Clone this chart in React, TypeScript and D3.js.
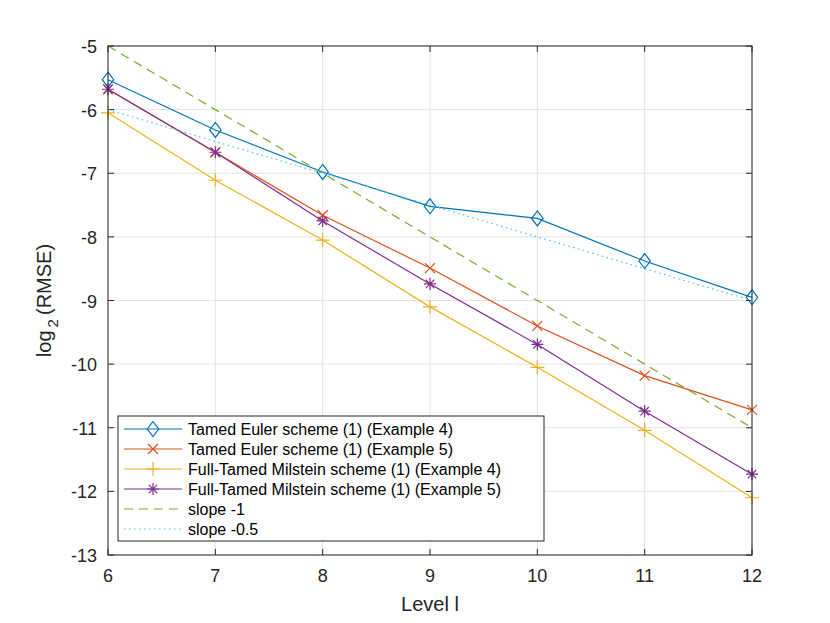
import React, { useEffect, useRef } from 'react';
import * as d3 from 'd3';

const levels = [6, 7, 8, 9, 10, 11, 12];
const eulerEx4 = [-5.53, -6.32, -6.98, -7.52, -7.71, -8.38, -8.95];
const eulerEx5 = [-5.68, -6.67, -7.66, -8.49, -9.40, -10.18, -10.72];
const milsteinEx4 = [-6.05, -7.11, -8.05, -9.10, -10.05, -11.04, -12.10];
const milsteinEx5 = [-5.68, -6.67, -7.75, -8.74, -9.69, -10.74, -11.73];
const slope1 = [-5, -6, -7, -8, -9, -10, -11];
const slopeHalf = [-6, -6.5, -7, -7.5, -8, -8.5, -9];
const yTicks = [-13, -12, -11, -10, -9, -8, -7, -6, -5];

const series = [
  { name: 'Tamed Euler scheme (1) (Example 4)', values: eulerEx4, color: '#0072BD', marker: 'diamond', dash: '' },
  { name: 'Tamed Euler scheme (1) (Example 5)', values: eulerEx5, color: '#D95319', marker: 'x', dash: '' },
  { name: 'Full-Tamed Milstein scheme (1) (Example 4)', values: milsteinEx4, color: '#EDB120', marker: 'plus', dash: '' },
  { name: 'Full-Tamed Milstein scheme (1) (Example 5)', values: milsteinEx5, color: '#7E2F8E', marker: 'star', dash: '' },
  { name: 'slope -1', values: slope1, color: '#77AC30', marker: 'none', dash: '9,6' },
  { name: 'slope -0.5', values: slopeHalf, color: '#4DBEEE', marker: 'none', dash: '1.5,3.5' },
];

const App: React.FC = () => {
  const ref = useRef<SVGSVGElement>(null);

  useEffect(() => {
    if (!ref.current) return;
    const svg = d3.select(ref.current);
    svg.selectAll('*').remove();

    const margin = { top: 46, left: 108 };
    const width = 644;
    const height = 509;
    const font = '"Liberation Sans", Arial, Helvetica, sans-serif';

    const x = d3.scaleLinear().domain([6, 12]).range([0, width]);
    const y = d3.scaleLinear().domain([-13, -5]).range([height, 0]);

    const g = svg.append('g').attr('transform', `translate(${margin.left},${margin.top})`);

    // grid
    g.selectAll('.gx').data(levels).enter().append('line')
      .attr('x1', d => x(d)).attr('x2', d => x(d)).attr('y1', 0).attr('y2', height)
      .attr('stroke', '#e3e3e3').attr('stroke-width', 1);
    g.selectAll('.gy').data(yTicks).enter().append('line')
      .attr('y1', d => y(d)).attr('y2', d => y(d)).attr('x1', 0).attr('x2', width)
      .attr('stroke', '#e3e3e3').attr('stroke-width', 1);

    // ticks (inward, all four sides)
    const tl = 6;
    levels.forEach(v => {
      g.append('line').attr('x1', x(v)).attr('x2', x(v)).attr('y1', height).attr('y2', height - tl).attr('stroke', '#262626');
      g.append('line').attr('x1', x(v)).attr('x2', x(v)).attr('y1', 0).attr('y2', tl).attr('stroke', '#262626');
    });
    yTicks.forEach(v => {
      g.append('line').attr('y1', y(v)).attr('y2', y(v)).attr('x1', 0).attr('x2', tl).attr('stroke', '#262626');
      g.append('line').attr('y1', y(v)).attr('y2', y(v)).attr('x1', width).attr('x2', width - tl).attr('stroke', '#262626');
    });

    // tick labels
    g.selectAll('.xl').data(levels).enter().append('text')
      .attr('x', d => x(d)).attr('y', height + 27)
      .attr('text-anchor', 'middle').attr('font-family', font).attr('font-size', 18).attr('fill', '#262626')
      .text(d => d);
    g.selectAll('.yl').data(yTicks).enter().append('text')
      .attr('x', -11).attr('y', d => y(d) + 7)
      .attr('text-anchor', 'end').attr('font-family', font).attr('font-size', 18).attr('fill', '#262626')
      .text(d => d);

    // axis titles
    g.append('text').attr('x', width / 2).attr('y', height + 56)
      .attr('text-anchor', 'middle').attr('font-family', font).attr('font-size', 20).attr('fill', '#262626')
      .text('Level l');
    const yl = g.append('text')
      .attr('transform', `translate(-57,${height / 2}) rotate(-90)`)
      .attr('text-anchor', 'middle').attr('font-family', font).attr('font-size', 20).attr('fill', '#262626');
    yl.append('tspan').text('log');
    yl.append('tspan').attr('dy', 7).attr('dx', 3).attr('font-size', 15).text('2');
    yl.append('tspan').attr('dy', -7).attr('dx', 4).text('(RMSE)');

    const line = d3.line<number>().x((_, i) => x(levels[i])).y(d => y(d));

    const drawMarker = (sel: d3.Selection<SVGGElement, unknown, null, undefined>, kind: string, color: string, cx: number, cy: number) => {
      if (kind === 'diamond') {
        const r = 7.5;
        sel.append('path').attr('d', `M${cx},${cy - r}L${cx + r * 0.76},${cy}L${cx},${cy + r}L${cx - r * 0.76},${cy}Z`)
          .attr('fill', 'none').attr('stroke', color).attr('stroke-width', 1.2);
      } else if (kind === 'x') {
        const r = 5;
        sel.append('path').attr('d', `M${cx - r},${cy - r}L${cx + r},${cy + r}M${cx - r},${cy + r}L${cx + r},${cy - r}`)
          .attr('stroke', color).attr('stroke-width', 1.2);
      } else if (kind === 'plus') {
        const r = 7;
        sel.append('path').attr('d', `M${cx - r},${cy}L${cx + r},${cy}M${cx},${cy - r}L${cx},${cy + r}`)
          .attr('stroke', color).attr('stroke-width', 1.2);
      } else if (kind === 'star') {
        const r = 6;
        const d = r * 0.7;
        sel.append('path').attr('d', `M${cx - r},${cy}L${cx + r},${cy}M${cx},${cy - r}L${cx},${cy + r}M${cx - d},${cy - d}L${cx + d},${cy + d}M${cx - d},${cy + d}L${cx + d},${cy - d}`)
          .attr('stroke', color).attr('stroke-width', 1.2);
      }
    };

    const plot = g.append('g');
    series.forEach(s => {
      plot.append('path').datum(s.values).attr('d', line)
        .attr('fill', 'none').attr('stroke', s.color).attr('stroke-width', 1.2)
        .attr('stroke-dasharray', s.dash || null);
      s.values.forEach((v, i) => drawMarker(plot, s.marker, s.color, x(levels[i]), y(v)));
    });

    // box
    g.append('rect').attr('x', 0).attr('y', 0).attr('width', width).attr('height', height)
      .attr('fill', 'none').attr('stroke', '#262626').attr('stroke-width', 1);

    // legend
    const lg = svg.append('g').attr('transform', 'translate(118,416)');
    lg.append('rect').attr('x', 0).attr('y', 0).attr('width', 426).attr('height', 125)
      .attr('fill', 'white').attr('stroke', '#262626').attr('stroke-width', 1);
    series.forEach((s, i) => {
      const ry = 13 + i * 20;
      lg.append('line').attr('x1', 6).attr('x2', 64).attr('y1', ry).attr('y2', ry)
        .attr('stroke', s.color).attr('stroke-width', 1.2).attr('stroke-dasharray', s.dash || null);
      drawMarker(lg, s.marker, s.color, 35, ry);
      lg.append('text').attr('x', 70).attr('y', ry + 6)
        .attr('font-family', font).attr('font-size', 16).attr('fill', '#000')
        .text(s.name);
    });
  }, []);

  return <svg ref={ref} width={830} height={623} style={{ display: 'block', margin: '-8px' }} />;
};

export default App;
